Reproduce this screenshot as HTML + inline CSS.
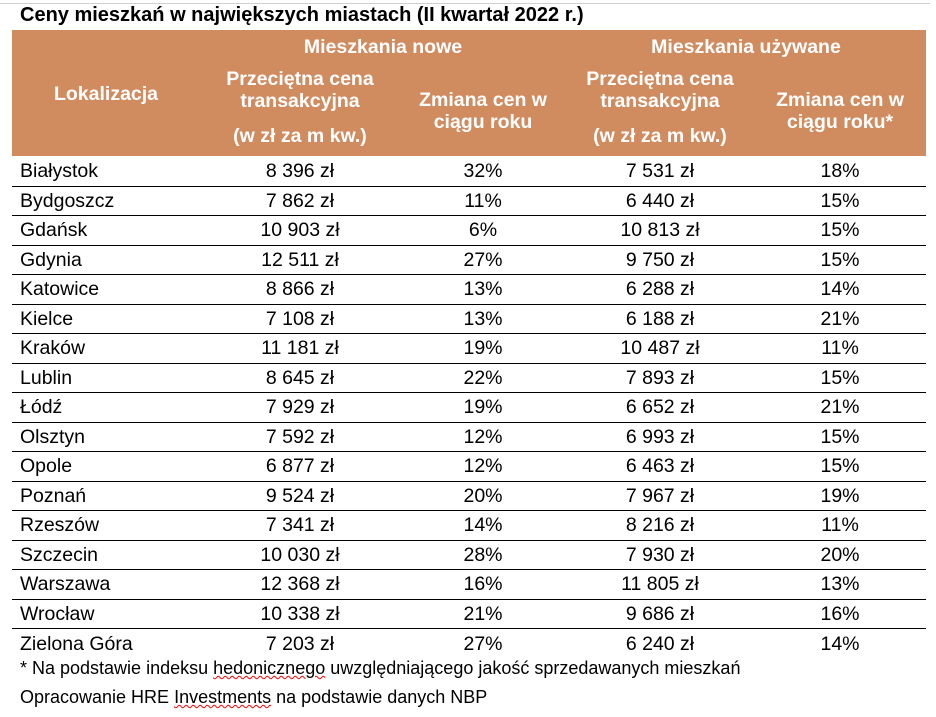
<!DOCTYPE html>
<html><head><meta charset="utf-8"><style>
body{margin:0;width:936px;height:717px;background:#fff;font-family:"Liberation Sans",Arial,sans-serif;position:relative;overflow:hidden}
.topline{position:absolute;left:0;top:3px;width:930px;height:1px;background:#d0d0d0}
.title{position:absolute;left:20px;top:4px;font-weight:bold;font-size:20px;color:#000}
.hdr{position:absolute;left:12px;top:30px;width:914px;height:126px;background:#D08B5F;color:#fff;font-weight:bold;font-size:19.5px}
.hdr div{position:absolute;text-align:center;line-height:22px}
table{position:absolute;left:12px;top:156.5px;width:914px;border-collapse:collapse;font-size:19.5px}
td{height:29.5px;padding:0;border-bottom:1px solid #000;text-align:center;line-height:28px;box-sizing:border-box}
tr:last-child td{border-bottom:none}
td:first-child{text-align:left;padding-left:8px;width:188px}
td:nth-child(2){width:200px}td:nth-child(3){width:166px}td:nth-child(4){width:188px}
.f{position:absolute;left:20px;font-size:18px}
.u{text-decoration:underline wavy red;text-decoration-thickness:1px}
</style></head><body>
<div class="topline"></div>
<div class="title">Ceny mieszkań w największych miastach (II kwartał 2022 r.)</div>
<div class="hdr">
<div style="left:0;width:188px;top:53px">Lokalizacja</div>
<div style="left:188px;width:366px;top:6px">Mieszkania nowe</div>
<div style="left:554px;width:360px;top:6px">Mieszkania używane</div>
<div style="left:188px;width:200px;top:38px">Przeciętna cena<br>transakcyjna</div>
<div style="left:188px;width:200px;top:95px">(w zł za m kw.)</div>
<div style="left:388px;width:166px;top:59px">Zmiana cen w<br>ciągu roku</div>
<div style="left:554px;width:188px;top:38px">Przeciętna cena<br>transakcyjna</div>
<div style="left:554px;width:188px;top:95px">(w zł za m kw.)</div>
<div style="left:742px;width:172px;top:59px">Zmiana cen w<br>ciągu roku*</div>
</div>
<table>
<tr><td>Białystok</td><td>8 396 zł</td><td>32%</td><td>7 531 zł</td><td>18%</td></tr>
<tr><td>Bydgoszcz</td><td>7 862 zł</td><td>11%</td><td>6 440 zł</td><td>15%</td></tr>
<tr><td>Gdańsk</td><td>10 903 zł</td><td>6%</td><td>10 813 zł</td><td>15%</td></tr>
<tr><td>Gdynia</td><td>12 511 zł</td><td>27%</td><td>9 750 zł</td><td>15%</td></tr>
<tr><td>Katowice</td><td>8 866 zł</td><td>13%</td><td>6 288 zł</td><td>14%</td></tr>
<tr><td>Kielce</td><td>7 108 zł</td><td>13%</td><td>6 188 zł</td><td>21%</td></tr>
<tr><td>Kraków</td><td>11 181 zł</td><td>19%</td><td>10 487 zł</td><td>11%</td></tr>
<tr><td>Lublin</td><td>8 645 zł</td><td>22%</td><td>7 893 zł</td><td>15%</td></tr>
<tr><td>Łódź</td><td>7 929 zł</td><td>19%</td><td>6 652 zł</td><td>21%</td></tr>
<tr><td>Olsztyn</td><td>7 592 zł</td><td>12%</td><td>6 993 zł</td><td>15%</td></tr>
<tr><td>Opole</td><td>6 877 zł</td><td>12%</td><td>6 463 zł</td><td>15%</td></tr>
<tr><td>Poznań</td><td>9 524 zł</td><td>20%</td><td>7 967 zł</td><td>19%</td></tr>
<tr><td>Rzeszów</td><td>7 341 zł</td><td>14%</td><td>8 216 zł</td><td>11%</td></tr>
<tr><td>Szczecin</td><td>10 030 zł</td><td>28%</td><td>7 930 zł</td><td>20%</td></tr>
<tr><td>Warszawa</td><td>12 368 zł</td><td>16%</td><td>11 805 zł</td><td>13%</td></tr>
<tr><td>Wrocław</td><td>10 338 zł</td><td>21%</td><td>9 686 zł</td><td>16%</td></tr>
<tr><td>Zielona Góra</td><td>7 203 zł</td><td>27%</td><td>6 240 zł</td><td>14%</td></tr>
</table>
<div class="f" style="top:658px">* Na podstawie indeksu <span class="u">hedonicznego</span> uwzględniającego jakość sprzedawanych mieszkań</div>
<div class="f" style="top:687px">Opracowanie HRE <span class="u">Investments</span> na podstawie danych NBP</div>
</body></html>
